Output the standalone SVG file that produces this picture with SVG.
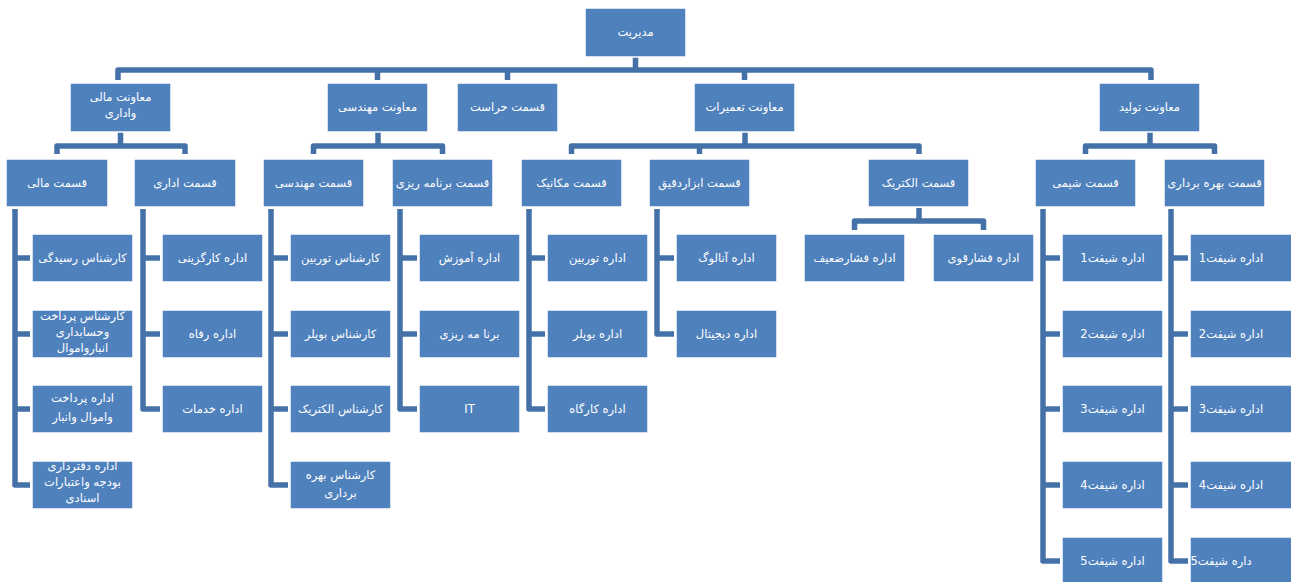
<svg xmlns="http://www.w3.org/2000/svg" width="1291" height="582" viewBox="0 0 1291 582">
<style>
.b{fill:#4F81BD;stroke:#ffffff;stroke-width:1.5}
.t{fill:#ffffff;font-family:"DejaVu Sans",sans-serif;font-size:11.5px;text-anchor:middle;direction:rtl}
.c{fill:none;stroke:#4472A8;stroke-width:5.5;stroke-linejoin:round;stroke-linecap:butt}
</style>
<rect width="1291" height="582" fill="#ffffff"/>
<g id="connectors">
<path class="c" d="M635.5 57V70M118 80V70H1151V80M377.5 70V80M507.5 70V80M744.5 70V80"/>
<path class="c" d="M120.5 132V146M57 154V146H185V154"/>
<path class="c" d="M378 132V146M313.5 154V146H442.5V154"/>
<path class="c" d="M745 132V146M571.5 154V146H919V154M699.5 146V154"/>
<path class="c" d="M1150 132V146M1085.5 154V146H1214.5V154"/>
<path class="c" d="M919 208V221M854.5 230V221H983.5V230"/>
<path class="c" d="M15 209V485H30M15 258H30M15 334H30M15 409H30"/>
<path class="c" d="M143 209V409H160M143 258H160M143 334H160"/>
<path class="c" d="M271 209V485H288M271 258H288M271 334H288M271 409H288"/>
<path class="c" d="M400 209V409H417M400 258H417M400 334H417"/>
<path class="c" d="M529 209V409H545M529 258H545M529 334H545"/>
<path class="c" d="M657 209V334H674M657 258H674"/>
<path class="c" d="M1043 209V561H1060M1043 258H1060M1043 334H1060M1043 409H1060M1043 485H1060"/>
<path class="c" d="M1171 209V561H1188M1171 258H1188M1171 334H1188M1171 409H1188M1171 485H1188"/>
</g>
<g id="n-root"><rect class="b" x="585" y="8" width="101" height="49"/><text class="t" x="635.5" y="36">مدیریت</text></g>
<g id="n-mali-edari"><rect class="b" x="70" y="83" width="101" height="49"/><text class="t" x="120.5" y="101">معاونت مالی</text><text class="t" x="120.5" y="117">واداری</text></g>
<g id="n-mohandesi"><rect class="b" x="327" y="83" width="101" height="49"/><text class="t" x="377.5" y="111">معاونت مهندسی</text></g>
<g id="n-herasat"><rect class="b" x="457" y="83" width="101" height="49"/><text class="t" x="507.5" y="111">قسمت حراست</text></g>
<g id="n-tamirat"><rect class="b" x="694" y="83" width="101" height="49"/><text class="t" x="744.5" y="111">معاونت تعمیرات</text></g>
<g id="n-tolid"><rect class="b" x="1099" y="83" width="101" height="49"/><text class="t" x="1149.5" y="111">معاونت تولید</text></g>

<g id="n-q-mali"><rect class="b" x="6" y="159" width="102" height="48"/><text class="t" x="57" y="187">قسمت مالی</text></g>
<g id="n-q-edari"><rect class="b" x="134" y="159" width="102" height="48"/><text class="t" x="185" y="187">قسمت اداری</text></g>
<g id="n-q-mohandesi"><rect class="b" x="263" y="159" width="101" height="48"/><text class="t" x="313.5" y="187">قسمت مهندسی</text></g>
<g id="n-q-barname"><rect class="b" x="392" y="159" width="101" height="48"/><text class="t" x="442.5" y="187">قسمت برنامه ریزی</text></g>
<g id="n-q-mekanik"><rect class="b" x="521" y="159" width="101" height="48"/><text class="t" x="571.5" y="187">قسمت مکانیک</text></g>
<g id="n-q-abzar"><rect class="b" x="649" y="159" width="101" height="48"/><text class="t" x="699.5" y="187">قسمت ابزاردقیق</text></g>
<g id="n-q-electric"><rect class="b" x="868" y="159" width="101" height="48"/><text class="t" x="918.5" y="187">قسمت الکتریک</text></g>
<g id="n-q-shimi"><rect class="b" x="1035" y="159" width="101" height="48"/><text class="t" x="1085.5" y="187">قسمت شیمی</text></g>
<g id="n-q-bahre"><rect class="b" x="1164" y="159" width="101" height="48"/><text class="t" x="1214.5" y="187">قسمت بهره برداری</text></g>

<g id="n-a1"><rect class="b" x="32" y="234" width="101" height="48"/><text class="t" x="82.5" y="262">کارشناس رسیدگی</text></g>
<g id="n-a2"><rect class="b" x="32" y="310" width="101" height="48"/><text class="t" x="82.5" y="320">کارشناس پرداخت</text><text class="t" x="82.5" y="336">وحسابداری</text><text class="t" x="82.5" y="352">انبارواموال</text></g>
<g id="n-a3"><rect class="b" x="32" y="385" width="101" height="48"/><text class="t" x="82.5" y="402">اداره پرداخت</text><text class="t" x="82.5" y="421">واموال وانبار</text></g>
<g id="n-a4"><rect class="b" x="32" y="461" width="101" height="48"/><text class="t" x="82.5" y="470">اداره دفترداری</text><text class="t" x="82.5" y="486">بودجه واعتبارات</text><text class="t" x="82.5" y="502">اسنادی</text></g>

<g id="n-b1"><rect class="b" x="162" y="234" width="101" height="48"/><text class="t" x="212.5" y="262">اداره کارگزینی</text></g>
<g id="n-b2"><rect class="b" x="162" y="310" width="101" height="48"/><text class="t" x="212.5" y="338">اداره رفاه</text></g>
<g id="n-b3"><rect class="b" x="162" y="385" width="101" height="48"/><text class="t" x="212.5" y="413">اداره خدمات</text></g>

<g id="n-c1"><rect class="b" x="290" y="234" width="101" height="48"/><text class="t" x="340.5" y="262">کارشناس توربین</text></g>
<g id="n-c2"><rect class="b" x="290" y="310" width="101" height="48"/><text class="t" x="340.5" y="338">کارشناس بویلر</text></g>
<g id="n-c3"><rect class="b" x="290" y="385" width="101" height="48"/><text class="t" x="340.5" y="413">کارشناس الکتریک</text></g>
<g id="n-c4"><rect class="b" x="290" y="461" width="101" height="48"/><text class="t" x="340.5" y="479">کارشناس بهره</text><text class="t" x="340.5" y="497">برداری</text></g>

<g id="n-d1"><rect class="b" x="419" y="234" width="101" height="48"/><text class="t" x="469.5" y="262">اداره آموزش</text></g>
<g id="n-d2"><rect class="b" x="419" y="310" width="101" height="48"/><text class="t" x="469.5" y="338">برنا مه ریزی</text></g>
<g id="n-d3"><rect class="b" x="419" y="385" width="101" height="48"/><text class="t" x="469.5" y="413">IT</text></g>

<g id="n-e1"><rect class="b" x="547" y="234" width="101" height="48"/><text class="t" x="597.5" y="262">اداره توربین</text></g>
<g id="n-e2"><rect class="b" x="547" y="310" width="101" height="48"/><text class="t" x="597.5" y="338">اداره بویلر</text></g>
<g id="n-e3"><rect class="b" x="547" y="385" width="101" height="48"/><text class="t" x="597.5" y="413">اداره کارگاه</text></g>

<g id="n-f1"><rect class="b" x="676" y="234" width="101" height="48"/><text class="t" x="726.5" y="262">اداره آنالوگ</text></g>
<g id="n-f2"><rect class="b" x="676" y="310" width="101" height="48"/><text class="t" x="726.5" y="338">اداره دیجیتال</text></g>

<g id="n-g1"><rect class="b" x="804" y="234" width="101" height="48"/><text class="t" x="854.5" y="262">اداره فشارضعیف</text></g>
<g id="n-g2"><rect class="b" x="933" y="234" width="101" height="48"/><text class="t" x="983.5" y="262">اداره فشارقوی</text></g>

<g id="n-h1"><rect class="b" x="1062" y="234" width="101" height="48"/><text class="t" x="1112.5" y="262">اداره شیفت1</text></g>
<g id="n-h2"><rect class="b" x="1062" y="310" width="101" height="48"/><text class="t" x="1112.5" y="338">اداره شیفت2</text></g>
<g id="n-h3"><rect class="b" x="1062" y="385" width="101" height="48"/><text class="t" x="1112.5" y="413">اداره شیفت3</text></g>
<g id="n-h4"><rect class="b" x="1062" y="461" width="101" height="48"/><text class="t" x="1112.5" y="489">اداره شیفت4</text></g>
<g id="n-h5"><rect class="b" x="1062" y="537" width="101" height="48"/><text class="t" x="1112.5" y="565">اداره شیفت5</text></g>

<g id="n-i1"><rect class="b" x="1190" y="234" width="102" height="48"/><text class="t" x="1231" y="262">اداره شیفت1</text></g>
<g id="n-i2"><rect class="b" x="1190" y="310" width="102" height="48"/><text class="t" x="1231" y="338">اداره شیفت2</text></g>
<g id="n-i3"><rect class="b" x="1190" y="385" width="102" height="48"/><text class="t" x="1231" y="413">اداره شیفت3</text></g>
<g id="n-i4"><rect class="b" x="1190" y="461" width="102" height="48"/><text class="t" x="1231" y="489">اداره شیفت4</text></g>
<g id="n-i5"><rect class="b" x="1190" y="537" width="102" height="48"/><text class="t" x="1221" y="565">داره شیفت5</text></g>
</svg>
